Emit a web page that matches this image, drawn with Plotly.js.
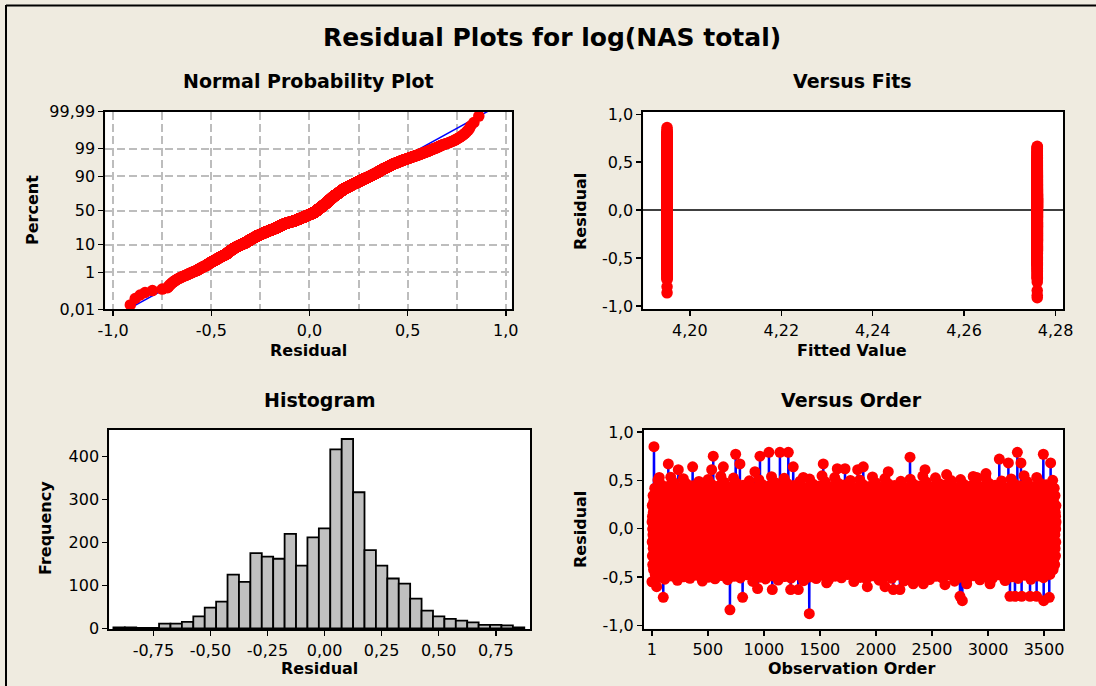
<!DOCTYPE html>
<html><head><meta charset="utf-8">
<script src="https://cdn.plot.ly/plotly-3.0.1.min.js"></script>
<style>html,body{margin:0;padding:0;background:#EFEBE0;}#chart{width:1096px;height:686px;}</style>
</head><body><div id="chart"></div>
<script>
// ---------- Data ----------
// Histogram of residuals (bin centres, counts), bin width 0.05
const binCenters = [-0.90,-0.85,-0.80,-0.75,-0.70,-0.65,-0.60,-0.55,-0.50,-0.45,-0.40,-0.35,-0.30,-0.25,-0.20,-0.15,-0.10,-0.05,0.00,0.05,0.10,0.15,0.20,0.25,0.30,0.35,0.40,0.45,0.50,0.55,0.60,0.65,0.70,0.75,0.80,0.85];
const binCounts  = [2,2,1,1,11,11,15,28,48,62,125,108,175,167,162,220,146,212,233,417,441,317,182,146,116,104,69,41,28,22,18,14,8,8,7,2];
const binWidth = 0.05;

// Normal probability plot: percent ticks and fitted reference line
const probTickPercent = [0.01,1,10,50,90,99,99.99];
const probTickText = ['0,01','1','10','50','90','99','99,99'];
const refLineMean = -0.01;
const refLineSd = 0.246;

// Versus fits: the two fitted values, and the largest residual in the second group
const fittedValues = [4.195, 4.276];
const group2MaxResidual = 0.67;

// Versus order: isolated spikes (observation, residual)
const spikeObs   = [19,147,66,236,364,548,534,638,748,786,920,965,1045,1143,1218,1262,1352,1530,1655,1724,1837,1887,2110,2304,2438,2631,2899,2982,3101,3182,3262,3294,3494,3559,
                    43,102,697,810,944,1075,1239,1307,1405,1560,1923,2081,2155,2214,2333,2423,2616,2750,2771,2810,3018,3152,3196,3241,3300,3375,3434,3497,3547];
const spikeResid = [0.848,0.67,0.53,0.61,0.64,0.75,0.61,0.64,0.77,0.67,0.59,0.75,0.79,0.79,0.79,0.64,0.53,0.67,0.62,0.62,0.61,0.64,0.59,0.74,0.61,0.56,0.53,0.57,0.72,0.68,0.79,0.68,0.77,0.68,
                    -0.60,-0.71,-0.84,-0.71,-0.62,-0.63,-0.63,-0.63,-0.88,-0.56,-0.60,-0.60,-0.63,-0.63,-0.57,-0.57,-0.58,-0.70,-0.745,-0.57,-0.57,-0.53,-0.70,-0.70,-0.70,-0.70,-0.70,-0.745,-0.71];
const orderBandLimit = 0.55;

// Tick labels
const resTickVals = [-1,-0.5,0,0.5,1];
const resTickText = ['-1,0','-0,5','0,0','0,5','1,0'];
const fitTickVals = [4.20,4.22,4.24,4.26,4.28];
const fitTickText = ['4,20','4,22','4,24','4,26','4,28'];
const histTickVals = [-0.75,-0.5,-0.25,0,0.25,0.5,0.75];
const histTickText = ['-0,75','-0,50','-0,25','0,00','0,25','0,50','0,75'];
const freqTickVals = [0,100,200,300,400];
const orderTickVals = [1,500,1000,1500,2000,2500,3000,3500];

// ---------- helpers ----------
function normInv(p){
  const a=[-3.969683028665376e+01,2.209460984245205e+02,-2.759285104469687e+02,1.383577518672690e+02,-3.066479806614716e+01,2.506628277459239e+00];
  const b=[-5.447609879822406e+01,1.615858368580409e+02,-1.556989798598866e+02,6.680131188771972e+01,-1.328068155288572e+01];
  const c=[-7.784894002430293e-03,-3.223964580411365e-01,-2.400758277161838e+00,-2.549671627571431e+00,4.374664141464968e+00,2.938163982698783e+00];
  const d=[7.784695709041462e-03,3.224671290700398e-01,2.445134137142996e+00,3.754408661907416e+00];
  const pl=0.02425, ph=1-pl; let q,r;
  if(p<pl){q=Math.sqrt(-2*Math.log(p));return (((((c[0]*q+c[1])*q+c[2])*q+c[3])*q+c[4])*q+c[5])/((((d[0]*q+d[1])*q+d[2])*q+d[3])*q+1);}
  if(p<=ph){q=p-0.5;r=q*q;return (((((a[0]*r+a[1])*r+a[2])*r+a[3])*r+a[4])*r+a[5])*q/(((((b[0]*r+b[1])*r+b[2])*r+b[3])*r+b[4])*r+1);}
  q=Math.sqrt(-2*Math.log(1-p));return -(((((c[0]*q+c[1])*q+c[2])*q+c[3])*q+c[4])*q+c[5])/((((d[0]*q+d[1])*q+d[2])*q+d[3])*q+1);
}
function bitReverse(k,bits){let r=0;for(let i=0;i<bits;i++){r=(r<<1)|((k>>i)&1);}return r;}

// residual sample reconstructed from the histogram counts (values placed inside their bins)
const sample = [];
binCenters.forEach((c,i)=>{const n=binCounts[i];for(let j=0;j<n;j++){sample.push(c-binWidth/2+binWidth*(j+0.5)/n);}});
sample.sort((u,v)=>u-v);
const N = sample.length;

// normal probability plot positions
const probZ = sample.map((v,i)=>normInv((i+1-0.3)/(N+0.4)));
const zLo = normInv(probTickPercent[0]/100), zHi = normInv(probTickPercent[probTickPercent.length-1]/100);
const refZ = [zLo-0.3, zHi+0.3];
const refX = refZ.map(z=>refLineMean+refLineSd*z);

// versus fits groups
const fitsX = [], fitsY = [];
sample.forEach((v,i)=>{
  const g = (i%2===1 && v<=group2MaxResidual) || i===0 ? 1 : 0;
  fitsX.push(fittedValues[g]); fitsY.push(v);
});

// versus order: band values interleaved by bit-reversed rank, spikes at their read positions
const body = sample.filter(v=>Math.abs(v)<=orderBandLimit);
const M = body.length;
let bits=0; while((1<<bits)<M) bits++;
const interleaved=[];
for(let k=0;k<(1<<bits);k++){const j=bitReverse(k,bits); if(j<M) interleaved.push(body[j]);}
const total = M + spikeObs.length;
const orderY = new Array(total).fill(null);
spikeObs.forEach((o,i)=>{orderY[o-1]=spikeResid[i];});
let k=0;
for(let i=0;i<total;i++){ if(orderY[i]===null){ orderY[i]=interleaved[k]; k++; } }
const orderX = orderY.map((v,i)=>i+1);

// ---------- figure ----------
const RED='#FF0000', BLUE='#0000FF';
const tickFont={family:'DejaVu Sans, Verdana, sans-serif',size:16,color:'#000'};
function axisBase(extra){
  return Object.assign({showline:true,mirror:true,linecolor:'#000',linewidth:2,ticks:'outside',ticklen:5,tickwidth:1.5,tickcolor:'#000',
    tickfont:tickFont,showgrid:false,zeroline:false,tickmode:'array',fixedrange:true},extra);
}
const gridStyle={gridcolor:'#BDBDBD',gridwidth:2,griddash:'8px,4px'};

const traces=[
  {type:'scatter',mode:'lines',x:refX,y:refZ,xaxis:'x',yaxis:'y',line:{color:BLUE,width:1.5},hoverinfo:'skip'},
  {type:'scatter',mode:'markers',x:sample,y:probZ,xaxis:'x',yaxis:'y',marker:{color:RED,size:11.5,line:{width:0}}},
  {type:'scatter',mode:'markers',x:fitsX,y:fitsY,xaxis:'x2',yaxis:'y2',marker:{color:RED,size:11.5,line:{width:0}}},
  {type:'bar',x:binCenters,y:binCounts,width:binWidth,xaxis:'x3',yaxis:'y3',marker:{color:'#C0C0C0',line:{color:'#000',width:1.8}}},
  {type:'scatter',mode:'lines+markers',x:orderX,y:orderY,xaxis:'x4',yaxis:'y4',line:{color:BLUE,width:2.5},marker:{color:RED,size:11,line:{width:0}}}
];

const W=1096,H=686;
const px=(x)=>x/W, py=(y)=>1-y/H;
const boldFont=(s)=>({family:'DejaVu Sans, Verdana, sans-serif',size:s,color:'#000',weight:'bold'});
function ann(text,x,y,size,angle){
  return {text:'<b>'+text+'</b>',xref:'paper',yref:'paper',x:px(x),y:py(y),xanchor:'center',yanchor:'middle',showarrow:false,
    font:boldFont(size),textangle:angle||0};
}

const layout={
  width:W,height:H,margin:{l:0,r:0,t:0,b:0},paper_bgcolor:'#EFEBE0',plot_bgcolor:'#FFFFFF',
  showlegend:false,bargap:0,separators:',.',hovermode:false,
  xaxis:axisBase(Object.assign({domain:[px(105.3),px(511.7)],anchor:'y',range:[-1.04,1.03],tickvals:resTickVals,ticktext:resTickText,showgrid:true,
    minor:Object.assign({tickvals:[-0.75,-0.25,0.25,0.75],showgrid:true,ticks:''},gridStyle)},gridStyle)),
  yaxis:axisBase(Object.assign({domain:[py(309.3),py(111.7)],anchor:'x',range:[zLo,zHi],tickvals:probTickPercent.map(p=>normInv(p/100)),ticktext:probTickText,showgrid:true},gridStyle)),
  xaxis2:axisBase({domain:[px(643.3),px(1063.3)],anchor:'y2',range:[4.1898,4.2817],tickvals:fitTickVals,ticktext:fitTickText}),
  yaxis2:axisBase({domain:[py(309.3),py(111.7)],anchor:'x2',range:[-1.034,1.027],tickvals:resTickVals,ticktext:resTickText,zeroline:true,zerolinecolor:'#404040',zerolinewidth:1.5}),
  xaxis3:axisBase({domain:[px(109.3),px(530)],anchor:'y3',range:[-0.943,0.900],tickvals:histTickVals,ticktext:histTickText}),
  yaxis3:axisBase({domain:[py(629.3),py(430)],anchor:'x3',range:[-2.3,462],tickvals:freqTickVals,ticktext:freqTickVals.map(String)}),
  xaxis4:axisBase({domain:[px(644),px(1063.3)],anchor:'y4',range:[-70,3672],tickvals:orderTickVals,ticktext:orderTickVals.map(String)}),
  yaxis4:axisBase({domain:[py(628.7),py(430)],anchor:'x4',range:[-1.035,1.021],tickvals:resTickVals,ticktext:resTickText}),
  annotations:[
    ann('Residual Plots for log(NAS total)',552,38,25),
    ann('Normal Probability Plot',308,81,19),
    ann('Versus Fits',852,81,19),
    ann('Histogram',319,400,19),
    ann('Versus Order',851,400,19),
    ann('Residual',308,350,16),
    ann('Fitted Value',852,350,16),
    ann('Residual',319,668,16),
    ann('Observation Order',851,668,16),
    ann('Percent',32,210,16,-90),
    ann('Residual',580,212,16,-90),
    ann('Frequency',45,528,16,-90),
    ann('Residual',580,530,16,-90)
  ],
  shapes:[
    {type:'line',xref:'paper',yref:'paper',x0:px(6),x1:1,y0:py(5.5),y1:py(5.5),line:{color:'#000',width:2}},
    {type:'line',xref:'paper',yref:'paper',x0:px(6),x1:px(6),y0:py(5),y1:0,line:{color:'#000',width:2}}
  ]
};
Plotly.newPlot('chart',traces,layout,{displayModeBar:false,staticPlot:true});
</script></body></html>
